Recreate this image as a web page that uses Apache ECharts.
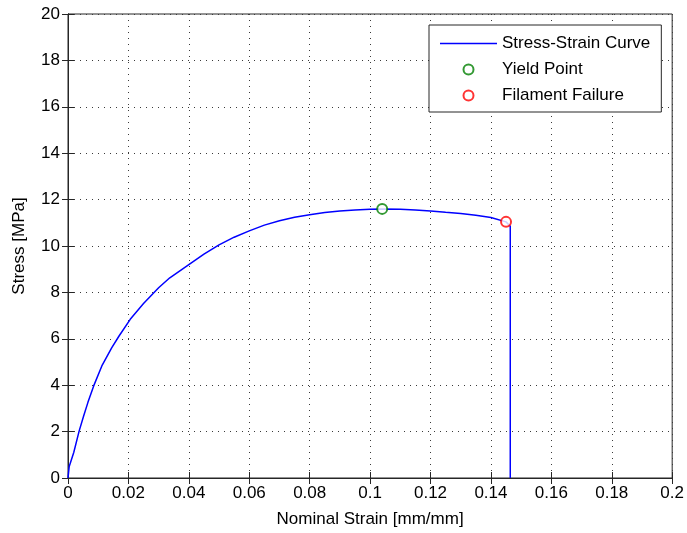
<!DOCTYPE html>
<html>
<head>
<meta charset="utf-8">
<title>Stress-Strain Curve</title>
<script src="https://cdn.jsdelivr.net/npm/echarts@6/dist/echarts.min.js"></script>
<style>
  html, body { margin: 0; padding: 0; background: #fff; }
  #chart { width: 687px; height: 533px; }
</style>
</head>
<body>
<div id="chart"></div>
<script>
// Nominal strain [mm/mm] and stress [MPa] of the tensile test
const strain = [0, 0.0004, 0.0019, 0.0037, 0.0052, 0.0066, 0.0085, 0.0112, 0.0145, 0.0169,
  0.0206, 0.025, 0.03, 0.0337, 0.04, 0.045, 0.05, 0.055, 0.06, 0.065,
  0.07, 0.075, 0.08, 0.085, 0.09, 0.095, 0.1, 0.104, 0.11, 0.115,
  0.12, 0.125, 0.13, 0.135, 0.14, 0.145, 0.1464, 0.1464];
const stress = [0, 0.5, 1.1, 2.03, 2.68, 3.26, 3.97, 4.83, 5.62, 6.12,
  6.84, 7.52, 8.2, 8.63, 9.2, 9.65, 10.05, 10.38, 10.65, 10.9,
  11.09, 11.24, 11.35, 11.44, 11.51, 11.55, 11.58, 11.6, 11.58, 11.55,
  11.51, 11.45, 11.4, 11.33, 11.23, 11.04, 10.85, 0];

// Marked points on the curve
const yieldPoint = [0.104, 11.6];
const failurePoint = [0.145, 11.04];

// Axis tick labels
const xTickLabels = ['0', '0.02', '0.04', '0.06', '0.08', '0.1', '0.12', '0.14', '0.16', '0.18', '0.2'];
const yTickLabels = ['0', '2', '4', '6', '8', '10', '12', '14', '16', '18', '20'];

const seriesNames = ['Stress-Strain Curve', 'Yield Point', 'Filament Failure'];

const FONT = '"Liberation Sans", Arial, Helvetica, sans-serif';
const AXIS_COLOR = '#262626';

const curve = strain.map((s, i) => [s, stress[i]]);

const chart = echarts.init(document.getElementById('chart'), null, { renderer: 'canvas' });

const tickCommon = {
  axisLine: { show: true, lineStyle: { color: AXIS_COLOR, width: 1 } },
  axisTick: { show: true, inside: true, length: 6, lineStyle: { color: AXIS_COLOR, width: 1 } }
};

const dotted = { show: true, lineStyle: { color: '#3a3a3a', width: 1, type: [1, 5] } };

chart.setOption({
  animation: false,
  backgroundColor: '#fff',
  textStyle: { fontFamily: FONT },
  grid: { left: 68, right: 12, top: 14, bottom: 54, show: true, borderColor: AXIS_COLOR, borderWidth: 1, containLabel: false },
  legend: {
    data: [
      // plain line swatch for the curve
      { name: seriesNames[0], icon: 'path://M0,0L57,0L57,1.5L0,1.5Z' },
      { name: seriesNames[1] },
      { name: seriesNames[2] }
    ],
    orient: 'vertical',
    left: 429,
    top: 25,
    padding: [10, 11, 8, 11],
    itemWidth: 57,
    itemHeight: 10,
    itemGap: 9,
    symbolKeepAspect: true,
    backgroundColor: '#fff',
    borderColor: AXIS_COLOR,
    borderWidth: 1,
    borderRadius: 0,
    textStyle: { fontFamily: FONT, fontSize: 17, color: '#000', lineHeight: 16, padding: [0, 0, 0, 0] },
    selectedMode: false
  },
  xAxis: [
    Object.assign({
      type: 'value', min: 0, max: 0.2, interval: 0.02, position: 'bottom',
      name: 'Nominal Strain [mm/mm]', nameLocation: 'middle', nameGap: 33,
      nameTextStyle: { fontFamily: FONT, fontSize: 17, color: '#000' },
      axisLabel: {
        fontFamily: FONT, fontSize: 17, color: '#000', margin: 7,
        formatter: v => xTickLabels[Math.round(v / 0.02)]
      },
      splitLine: dotted
    }, tickCommon),
    Object.assign({
      type: 'value', min: 0, max: 0.2, interval: 0.02, position: 'top',
      axisLabel: { show: false }, splitLine: { show: false }
    }, tickCommon)
  ],
  yAxis: [
    Object.assign({
      type: 'value', min: 0, max: 20, interval: 2, position: 'left',
      name: 'Stress [MPa]', nameLocation: 'middle', nameGap: 40, nameRotate: 90,
      nameTextStyle: { fontFamily: FONT, fontSize: 17, color: '#000' },
      axisLabel: {
        fontFamily: FONT, fontSize: 17, color: '#000', margin: 8,
        formatter: v => yTickLabels[Math.round(v / 2)]
      },
      splitLine: dotted
    }, tickCommon),
    Object.assign({
      type: 'value', min: 0, max: 20, interval: 2, position: 'right',
      axisLabel: { show: false }, splitLine: { show: false }
    }, tickCommon)
  ],
  series: [
    {
      name: seriesNames[0],
      type: 'line',
      data: curve,
      showSymbol: false,
      symbol: 'none',
      smooth: false,
      lineStyle: { color: '#0000ff', width: 1.5 },
      itemStyle: { color: '#0000ff' },
      z: 2
    },
    {
      name: seriesNames[1],
      type: 'scatter',
      data: [yieldPoint],
      symbol: 'emptyCircle',
      symbolSize: 10,
      itemStyle: { color: '#008000', borderColor: '#008000', borderWidth: 1.2 },
      z: 3
    },
    {
      name: seriesNames[2],
      type: 'scatter',
      data: [failurePoint],
      symbol: 'emptyCircle',
      symbolSize: 10,
      itemStyle: { color: '#ff0000', borderColor: '#ff0000', borderWidth: 1.2 },
      z: 3
    }
  ]
});
</script>
</body>
</html>
